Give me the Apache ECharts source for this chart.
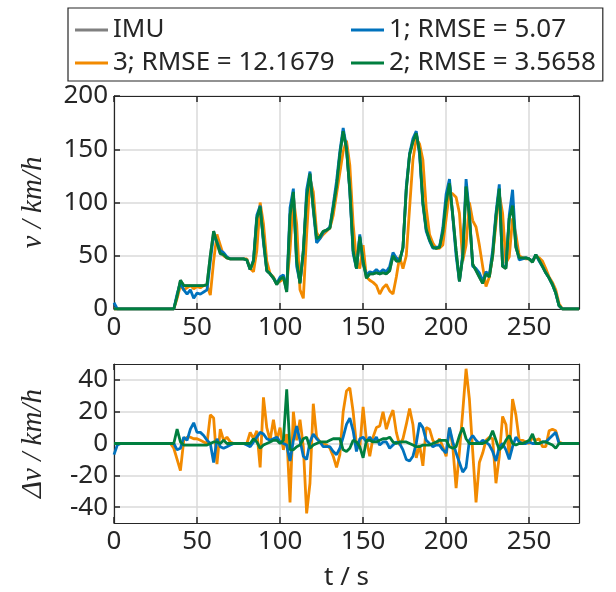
<!DOCTYPE html>
<html><head><meta charset="utf-8">
<script src="https://cdn.jsdelivr.net/npm/echarts@6/dist/echarts.min.js"></script>
<style>html,body{margin:0;padding:0;background:#fff}#c{width:616px;height:592px}</style>
</head><body><div id="c"></div>
<script>
// time (s)
const time = [0,2,4,6,8,10,12,14,16,18,20,22,24,26,28,30,32,34,36,38,40,42,44,46,48,50,52,54,56,58,60,62,64,66,68,70,72,74,76,78,80,82,84,86,88,90,92,94,96,98,100,102,104,106,108,110,112,114,116,118,120,122,124,126,128,130,132,134,136,138,140,142,144,146,148,150,152,154,156,158,160,162,164,166,168,170,172,174,176,178,180,182,184,186,188,190,192,194,196,198,200,202,204,206,208,210,212,214,216,218,220,222,224,226,228,230,232,234,236,238,240,242,244,246,248,250,252,254,256,258,260,262,264,266,268,270,272,274,276,278,280];
const seriesNames = ['IMU', '1; RMSE = 5.07', '3; RMSE = 12.1679', '2; RMSE = 3.5658'];
// speed v (km/h)
const vIMU = [0,0,0,0,0,0,0,0,0,0, 0,0,0,0,0,0,0,0,0,12, 27,22,22,22,22,22,22,22,23,50, 73,62,52,51,48,47,47,47,47,47, 46,37,45,85,96,65,36,33,29,23, 28,30,16,88,110,45,24,55,105,127, 95,66,68,73,74,76,95,115,145,167, 150,112,55,38,68,45,29,33,33,34, 33,34,33,36,50,45,45,58,112,145, 157,165,148,100,75,65,58,57,58,72, 100,118,88,55,26,49,115,87,42,36, 30,24,33,30,50,87,113,40,38,85, 97,58,48,48,48,47,44,51,46,40, 34,29,23,15,3,0,0,0,0,0, 0];
const v1 = [6,0,0,0,0,0,0,0,0,0, 0,0,0,0,0,0,0,0,0,14, 25,18,14,18,10,15,14,16,18,45, 70,63,55,53,49,47,47,47,47,47, 46,37,46,88,97,62,36,33,29,24, 30,32,18,95,113,40,25,52,112,129, 93,62,66,72,74,77,98,120,148,170, 152,110,52,38,70,42,32,35,34,37, 34,37,35,40,53,48,46,57,115,146, 160,167,145,98,73,64,57,58,58,76, 108,122,86,50,26,52,122,90,40,38, 34,26,35,32,55,90,117,40,40,88, 112,60,46,47,48,47,45,51,45,40, 34,29,23,15,3,0,0,0,0,0, 0];
const v3 = [0,0,0,0,0,0,0,0,0,0, 0,0,0,0,0,0,0,0,0,10, 22,18,20,22,19,21,20,22,22,13, 45,70,60,50,48,47,47,47,47,47, 47,38,35,55,100,80,45,33,30,24, 26,28,22,55,105,80,18,10,70,122, 110,72,66,70,73,76,88,108,128,148, 158,135,80,45,38,60,30,27,25,22, 14,20,23,17,14,30,49,38,50,95, 140,160,155,140,95,70,62,57,57,60, 85,110,108,105,90,45,60,100,83,77, 60,40,21,30,50,80,108,90,43,49, 85,70,50,48,47,47,45,50,48,45, 38,30,25,18,5,0,0,0,0,0, 0];
const v2 = [0,0,0,0,0,0,0,0,0,0, 0,0,0,0,0,0,0,0,0,12, 27,22,22,22,22,22,22,22,23,50, 73,62,52,51,48,47,47,47,47,47, 46,37,45,85,96,65,36,33,29,23, 28,30,16,88,110,45,24,55,105,127, 95,66,68,73,74,76,95,115,145,167, 150,112,55,38,68,45,29,33,33,34, 33,34,33,36,50,45,45,58,112,145, 157,165,148,100,75,65,58,57,58,72, 100,118,88,55,26,49,115,87,42,36, 30,24,33,30,50,87,113,40,38,85, 97,58,48,48,48,47,44,51,46,40, 34,29,23,15,3,0,0,0,0,0, 0];
// speed error dv (km/h)
const d1 = [-7,-1,0,0,0,0,0,0,0,0, 0,0,0,0,0,0,0,0,0,-4, -3,4,2,9,13,7,7,5,2,0, -12,3,-2,-3,-2,-1,0,0,0,0, -1,-2,1,4,7,6,3,2,3,4, 1,0,-1,-11,2,11,2,-8,-10,1, 6,3,1,-2,-2,-2,-5,-7,-3,4, 12,16,8,-5,3,4,1,4,1,4, -1,1,1,-3,-1,1,0,-4,-10,-11, -8,0,13,10,2,0,-2,-1,-1,-4, -6,10,1,-6,-12,-18,-15,2,5,2, 0,2,1,-1,-5,-11,-2,0,-4,-10, -2,4,1,0,0,1,0,0,0,1, 1,3,5,7,0,0,0,0,0,0, 0];
const d3 = [0,0,0,0,0,0,0,0,0,0, 0,0,0,0,0,0,0,0,-3,-10, -17,2,4,4,3,3,2,1,0,18, 16,-13,9,2,4,1,0,0,0,0, 0,7,3,8,-15,29,10,2,15,2, 10,-4,6,-37,20,2,15,-2,-44,-25, 25,4,1,0,-1,-3,-8,-15,-7,20, 33,35,20,-1,-3,23,2,-8,4,10, 11,20,9,16,21,7,-1,3,12,22, 12,-9,-1,-14,10,9,2,-1,3,-2, -8,10,-2,-28,-5,20,47,28,-5,-37, -12,-6,2,4,3,-25,-8,17,12,-8, 28,18,2,2,1,0,4,2,3,-2, -2,8,9,8,1,0,0,0,0,0, 0];
const d2 = [0,0,0,0,0,0,0,0,0,0, 0,0,0,0,0,0,0,0,0,9, 1,-1,-1,-1,-1,-1,-1,-1,-1,0, 1,1,0,2,0,0,0,0,0,0, 0,0,3,1,-3,-1,0,1,2,2, 0,2,34,-4,-4,-2,-1,3,4,-3, -1,0,1,1,1,2,3,3,3,-4, -5,-3,2,1,-2,-9,2,2,1,1, 2,3,3,4,1,0,1,1,1,0, -1,-2,-2,-1,-1,-1,0,1,2,2, 2,-2,-3,-2,5,10,3,0,0,0, 0,0,1,3,8,2,-4,-2,2,5, 0,-1,0,0,1,2,6,0,0,1, 1,0,-1,-3,0,0,0,0,0,0, 0];
const xTicks = [0, 50, 100, 150, 200, 250];
const vTicks = [0, 50, 100, 150, 200];
const dTicks = [-40, -20, 0, 20, 40];

const colors = {IMU: '#808080', s1: '#0072bd', s3: '#f28a00', s2: '#007f3f'};
const ink = '#262626';
const FONT = 'Noto Sans';
const FS = 26;
const pairs = (ys) => time.map((t, i) => [t, ys[i]]);

function xAxis(grid, pos, labels, extra) {
  return Object.assign({
    type: 'value', gridIndex: grid, position: pos, min: 0, max: 280, interval: 50,
    axisLine: {show: true, onZero: false, lineStyle: {color: ink, width: 1.2}},
    axisTick: {show: true, inside: true, length: 6, lineStyle: {color: ink, width: 1.5}, customValues: xTicks},
    axisLabel: {show: labels, customValues: xTicks, color: ink, fontSize: FS, fontFamily: FONT, margin: 6},
    splitLine: {show: labels, lineStyle: {color: '#dadada', width: 1.5}}
  }, extra || {});
}
function yAxis(grid, pos, labels, min, max, ticks, extra) {
  return Object.assign({
    type: 'value', gridIndex: grid, position: pos, min: min, max: max,
    axisLine: {show: true, onZero: false, lineStyle: {color: ink, width: 1.2}},
    axisTick: {show: true, inside: true, length: 6, lineStyle: {color: ink, width: 1.5}, customValues: ticks},
    axisLabel: {show: labels, customValues: ticks, color: ink, fontSize: FS, fontFamily: FONT, margin: 6},
    splitLine: {show: labels, lineStyle: {color: '#dadada', width: 1.5}}
  }, extra || {});
}
const nameStyle = {fontFamily: 'Liberation Serif', fontStyle: 'italic', fontSize: 29, color: ink};

function line(name, xi, yi, data, color) {
  return {name: name, type: 'line', xAxisIndex: xi, yAxisIndex: yi, data: pairs(data),
    symbol: 'none', showSymbol: false, animation: false,
    lineStyle: {color: color, width: 2.8}, itemStyle: {color: color}};
}

const chart = echarts.init(document.getElementById('c'), null, {renderer: 'canvas'});
chart.setOption({
  animation: false,
  backgroundColor: '#ffffff',
  grid: [
    {left: 114, right: 37, top: 96, height: 213},
    {left: 114, right: 37, top: 364, height: 159}
  ],
  legend: {
    left: 68, top: 8, width: 530, orient: 'horizontal',
    icon: 'rect', itemWidth: 33, itemHeight: 3, itemGap: 5,
    padding: [8, 7, 4, 7],
    borderColor: ink, borderWidth: 1.2,
    textStyle: {fontSize: FS, fontFamily: FONT, color: ink, lineHeight: 28},
    data: [
      {name: seriesNames[0], textStyle: {width: 233}},
      {name: seriesNames[1]},
      {name: seriesNames[2], textStyle: {width: 233}},
      {name: seriesNames[3]}
    ]
  },
  xAxis: [
    xAxis(0, 'bottom', true),
    xAxis(0, 'top', false),
    xAxis(1, 'bottom', true, {name: 't / s', nameLocation: 'middle', nameGap: 42,
      nameTextStyle: {fontFamily: FONT, fontSize: FS, color: ink}}),
    xAxis(1, 'top', false)
  ],
  yAxis: [
    yAxis(0, 'left', true, 0, 200, vTicks, {name: 'v / km/h', nameLocation: 'middle', nameRotate: 90, nameGap: 66, nameTextStyle: nameStyle}),
    yAxis(0, 'right', false, 0, 200, vTicks),
    yAxis(1, 'left', true, -50, 50, dTicks, {name: '\u0394v / km/h', nameLocation: 'middle', nameRotate: 90, nameGap: 66, nameTextStyle: nameStyle}),
    yAxis(1, 'right', false, -50, 50, dTicks)
  ],
  series: [
    line(seriesNames[0], 0, 0, vIMU, colors.IMU),
    line(seriesNames[2], 0, 0, v3, colors.s3),
    line(seriesNames[1], 0, 0, v1, colors.s1),
    line(seriesNames[3], 0, 0, v2, colors.s2),
    line(seriesNames[2], 2, 2, d3, colors.s3),
    line(seriesNames[1], 2, 2, d1, colors.s1),
    line(seriesNames[3], 2, 2, d2, colors.s2)
  ]
});
</script></body></html>
